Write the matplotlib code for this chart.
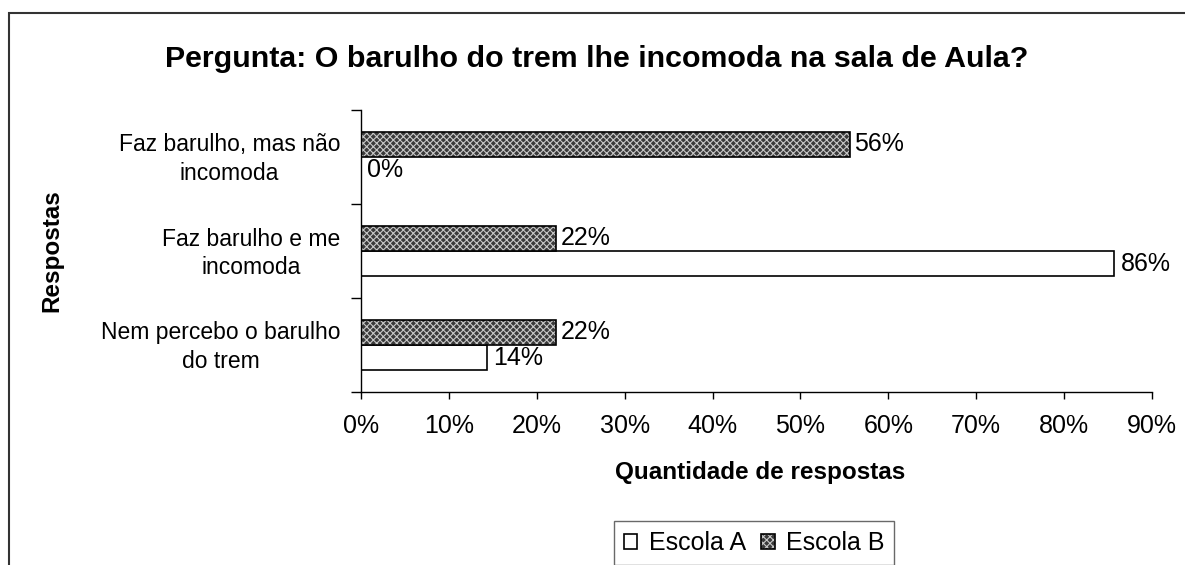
import matplotlib
matplotlib.use('Agg')
import matplotlib.pyplot as plt
import matplotlib.transforms as mtransforms
from matplotlib.patches import Rectangle
from matplotlib.legend_handler import HandlerTuple
import numpy as np

plt.rcParams['font.family'] = ['Liberation Sans', 'DejaVu Sans']
plt.rcParams['hatch.linewidth'] = 0.8

# data (bottom to top)
categorias = ['Nem percebo o barulho\ndo trem',
              'Faz barulho e me\nincomoda',
              'Faz barulho, mas não\nincomoda']
escola_a = [14.3, 85.7, 0.0]
escola_b = [22.2, 22.2, 55.6]
xticks = [0, 10, 20, 30, 40, 50, 60, 70, 80, 90]

fs = 18

fig = plt.figure(figsize=(11.85, 5.65), dpi=100)
ax = fig.add_axes([361 / 1185, 1 - 392 / 565, (1152 - 361) / 1185, (392 - 110) / 565])

y = np.arange(len(categorias))
h = 0.27

# Escola A (white bars)
bars_a = ax.barh(y - h / 2, escola_a, h, color='white', edgecolor='black', linewidth=1.2)
# Escola B (hatched bars): hatch layer + outline layer
hatch_b = ax.barh(y + h / 2, escola_b, h, color='#3a3a3a', edgecolor='#c8c8c8',
                  hatch='xxxxx', linewidth=0)
bars_b = ax.barh(y + h / 2, escola_b, h, fill=False, edgecolor='black', linewidth=1.2)

ax.bar_label(bars_a, labels=[f'{v:.0f}%' for v in escola_a], padding=4.5, fontsize=fs)
ax.bar_label(bars_b, labels=[f'{v:.0f}%' for v in escola_b], padding=3.5, fontsize=fs)

ax.set_xlim(0, 90)
ax.set_ylim(-0.5, len(categorias) - 0.5)
ax.set_xticks(xticks)
ax.set_xticklabels([f'{t}%' for t in xticks], fontsize=fs)
ax.tick_params(axis='x', direction='out', length=5, width=1, pad=11)

ax.set_yticks(np.arange(-0.5, len(categorias)), labels=[])
ax.tick_params(axis='y', which='major', direction='out', length=7, width=1)
ax.set_yticks(y, minor=True)
ax.set_yticklabels(categorias, minor=True, fontsize=16.5)
ax.tick_params(axis='y', which='minor', length=0, pad=15)
shift = mtransforms.ScaledTranslation(0, 3 / 100, fig.dpi_scale_trans)
for lab in ax.get_yticklabels(minor=True):
    lab.set_multialignment('center')
    lab.set_linespacing(1.3)
    lab.set_transform(lab.get_transform() + shift)

for s in ['top', 'right']:
    ax.spines[s].set_visible(False)
for s in ['left', 'bottom']:
    ax.spines[s].set_linewidth(1)

fig.text(760 / 1185, 1 - 473 / 565, 'Quantidade de respostas', fontsize=17.5,
         fontweight='bold', ha='center', va='center')
fig.text(52 / 1185, 1 - 251 / 565, 'Respostas', rotation=90, fontsize=17.5,
         fontweight='bold', ha='center', va='center')
fig.text(597 / 1185, 1 - 59 / 565, 'Pergunta: O barulho do trem lhe incomoda na sala de Aula?',
         fontsize=21.9, fontweight='bold', ha='center', va='center')

ax.legend([bars_a[0], (hatch_b[0], bars_b[0])], ['Escola A', 'Escola B'],
          handler_map={tuple: HandlerTuple(ndivide=1)},
          loc='upper center', bbox_to_anchor=(754 / 1185, 1 - 521 / 565),
          bbox_transform=fig.transFigure, ncol=2, fontsize=fs, frameon=True,
          fancybox=False, edgecolor='#444444', handlelength=0.55, handleheight=0.55,
          handletextpad=0.45, columnspacing=0.6, borderpad=0.4, borderaxespad=0)

fig.patches.append(Rectangle((9 / 1185, -0.1), 1.2, 1 - 13 / 565 + 0.1,
                             transform=fig.transFigure, fill=False,
                             edgecolor='#333333', linewidth=1.5))

fig.savefig('out.png', dpi=100)
